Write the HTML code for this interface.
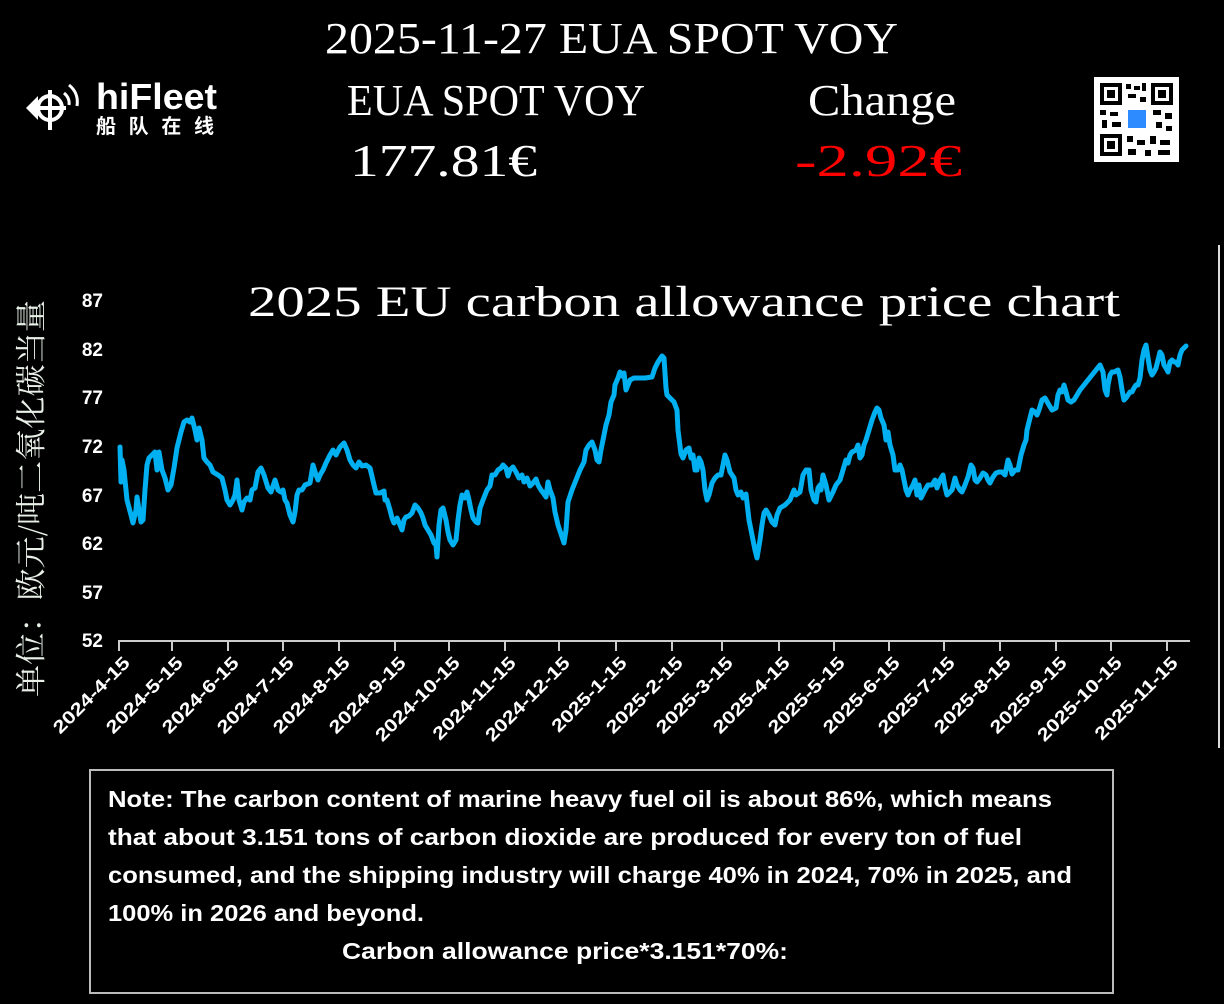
<!DOCTYPE html>
<html><head><meta charset="utf-8"><style>
body{margin:0;background:#000;}
.w{position:relative;width:1224px;height:1004px;background:#000;overflow:hidden}
</style></head><body><div class="w">
<svg style="position:absolute;left:0;top:0" width="1224" height="1004">
<g font-family="Liberation Serif,serif" fill="#fff">
<text x="325" y="53" font-size="44" textLength="573" lengthAdjust="spacingAndGlyphs">2025-11-27 EUA SPOT VOY</text>
<text x="347" y="115" font-size="44" textLength="298" lengthAdjust="spacingAndGlyphs">EUA SPOT VOY</text>
<text x="808" y="115" font-size="44" textLength="148" lengthAdjust="spacingAndGlyphs">Change</text>
<text x="350" y="176" font-size="46" textLength="187" lengthAdjust="spacingAndGlyphs">177.81€</text>
<text x="795" y="176" font-size="46" textLength="167" lengthAdjust="spacingAndGlyphs" fill="#f00">-2.92€</text>
<text x="248" y="316" font-size="43" textLength="872" lengthAdjust="spacingAndGlyphs">2025 EU carbon allowance price chart</text>
</g>
<g fill="#fff" stroke="#fff">
<circle cx="50" cy="108" r="12" fill="none" stroke-width="4"/>
<line x1="50" y1="90" x2="50" y2="130" stroke-width="4"/>
<line x1="32" y1="108" x2="66" y2="108" stroke-width="4"/>
<polygon points="26,108 38,96 38,120" stroke="none"/>
<path d="M64 93 q6 5 5 12" fill="none" stroke-width="3"/>
<path d="M69 85 q10 8 8 21" fill="none" stroke-width="3"/>
</g>
<text x="96" y="109" font-family="Liberation Sans,sans-serif" font-weight="bold" font-size="36" fill="#fff" textLength="121" lengthAdjust="spacingAndGlyphs">hiFleet</text>
<text x="96" y="133" font-family="Noto Sans CJK SC,sans-serif" font-weight="bold" font-size="20" fill="#fff" textLength="118" lengthAdjust="spacing">船队在线</text>
<rect x="1094" y="77" width="85" height="85" fill="#fff"/>
<g fill="#000">
<rect x="1100" y="83" width="22" height="22"/><rect x="1104" y="87" width="14" height="14" fill="#fff"/><rect x="1107" y="90" width="8" height="8"/>
<rect x="1151" y="83" width="22" height="22"/><rect x="1155" y="87" width="14" height="14" fill="#fff"/><rect x="1158" y="90" width="8" height="8"/>
<rect x="1100" y="134" width="22" height="22"/><rect x="1104" y="138" width="14" height="14" fill="#fff"/><rect x="1107" y="141" width="8" height="8"/>
<rect x="1126" y="84" width="5" height="5"/><rect x="1134" y="86" width="6" height="4"/><rect x="1142" y="83" width="4" height="8"/><rect x="1128" y="94" width="8" height="4"/><rect x="1140" y="97" width="6" height="5"/>
<rect x="1100" y="110" width="6" height="5"/><rect x="1110" y="112" width="8" height="4"/><rect x="1102" y="120" width="5" height="8"/><rect x="1112" y="122" width="9" height="5"/>
<rect x="1153" y="110" width="8" height="5"/><rect x="1165" y="113" width="7" height="6"/><rect x="1156" y="122" width="6" height="6"/><rect x="1166" y="126" width="6" height="5"/>
<rect x="1127" y="136" width="6" height="6"/><rect x="1137" y="140" width="8" height="5"/><rect x="1150" y="136" width="6" height="8"/><rect x="1160" y="140" width="10" height="5"/><rect x="1128" y="149" width="8" height="6"/><rect x="1145" y="150" width="6" height="6"/><rect x="1158" y="150" width="12" height="5"/>
</g>
<rect x="1128" y="110" width="18" height="18" fill="#2e8bff"/>
<line x1="1219" y1="245" x2="1219" y2="748" stroke="#ddd" stroke-width="2"/>
<g font-family="Liberation Sans,sans-serif" font-weight="bold" font-size="19" fill="#fff" text-anchor="end">
<text x="103" y="307">87</text><text x="103" y="356">82</text><text x="103" y="404">77</text><text x="103" y="453">72</text><text x="103" y="502">67</text><text x="103" y="550">62</text><text x="103" y="599">57</text><text x="103" y="647">52</text>
</g>
<text transform="translate(42,697) rotate(-90)" font-family="Noto Serif CJK SC,serif" font-size="31" fill="#e8f0e8" textLength="397" lengthAdjust="spacingAndGlyphs">单位：欧元/吨二氧化碳当量</text>
<line x1="118" y1="641" x2="1190" y2="641" stroke="#ccc" stroke-width="2"/>
<g stroke="#ccc" stroke-width="2">
<line x1="119" y1="641" x2="119" y2="651"/><line x1="172" y1="641" x2="172" y2="651"/><line x1="228" y1="641" x2="228" y2="651"/><line x1="283" y1="641" x2="283" y2="651"/><line x1="339" y1="641" x2="339" y2="651"/><line x1="395" y1="641" x2="395" y2="651"/><line x1="449" y1="641" x2="449" y2="651"/><line x1="505" y1="641" x2="505" y2="651"/><line x1="559" y1="641" x2="559" y2="651"/><line x1="616" y1="641" x2="616" y2="651"/><line x1="672" y1="641" x2="672" y2="651"/><line x1="722" y1="641" x2="722" y2="651"/><line x1="779" y1="641" x2="779" y2="651"/><line x1="834" y1="641" x2="834" y2="651"/><line x1="889" y1="641" x2="889" y2="651"/><line x1="944" y1="641" x2="944" y2="651"/><line x1="1000" y1="641" x2="1000" y2="651"/><line x1="1056" y1="641" x2="1056" y2="651"/><line x1="1111" y1="641" x2="1111" y2="651"/><line x1="1167" y1="641" x2="1167" y2="651"/>
</g>
<g font-family="Liberation Sans,sans-serif" font-weight="bold" font-size="18" fill="#fff" text-anchor="end">
<text transform="translate(131,664) rotate(-45)" textLength="100" lengthAdjust="spacingAndGlyphs">2024-4-15</text>
<text transform="translate(184,664) rotate(-45)" textLength="100" lengthAdjust="spacingAndGlyphs">2024-5-15</text>
<text transform="translate(240,664) rotate(-45)" textLength="100" lengthAdjust="spacingAndGlyphs">2024-6-15</text>
<text transform="translate(295,664) rotate(-45)" textLength="100" lengthAdjust="spacingAndGlyphs">2024-7-15</text>
<text transform="translate(351,664) rotate(-45)" textLength="100" lengthAdjust="spacingAndGlyphs">2024-8-15</text>
<text transform="translate(407,664) rotate(-45)" textLength="100" lengthAdjust="spacingAndGlyphs">2024-9-15</text>
<text transform="translate(461,664) rotate(-45)" textLength="111" lengthAdjust="spacingAndGlyphs">2024-10-15</text>
<text transform="translate(517,664) rotate(-45)" textLength="109" lengthAdjust="spacingAndGlyphs">2024-11-15</text>
<text transform="translate(571,664) rotate(-45)" textLength="111" lengthAdjust="spacingAndGlyphs">2024-12-15</text>
<text transform="translate(628,664) rotate(-45)" textLength="98" lengthAdjust="spacingAndGlyphs">2025-1-15</text>
<text transform="translate(684,664) rotate(-45)" textLength="100" lengthAdjust="spacingAndGlyphs">2025-2-15</text>
<text transform="translate(734,664) rotate(-45)" textLength="100" lengthAdjust="spacingAndGlyphs">2025-3-15</text>
<text transform="translate(791,664) rotate(-45)" textLength="100" lengthAdjust="spacingAndGlyphs">2025-4-15</text>
<text transform="translate(846,664) rotate(-45)" textLength="100" lengthAdjust="spacingAndGlyphs">2025-5-15</text>
<text transform="translate(901,664) rotate(-45)" textLength="100" lengthAdjust="spacingAndGlyphs">2025-6-15</text>
<text transform="translate(956,664) rotate(-45)" textLength="100" lengthAdjust="spacingAndGlyphs">2025-7-15</text>
<text transform="translate(1012,664) rotate(-45)" textLength="100" lengthAdjust="spacingAndGlyphs">2025-8-15</text>
<text transform="translate(1068,664) rotate(-45)" textLength="100" lengthAdjust="spacingAndGlyphs">2025-9-15</text>
<text transform="translate(1123,664) rotate(-45)" textLength="111" lengthAdjust="spacingAndGlyphs">2025-10-15</text>
<text transform="translate(1179,664) rotate(-45)" textLength="109" lengthAdjust="spacingAndGlyphs">2025-11-15</text>
</g>
<polyline fill="none" stroke="#00b0f0" stroke-width="5" stroke-linejoin="round" stroke-linecap="round" points="120,447 121,482 122,460 124,470 127,500 131,515 133,523 136,510 137,497 139,510 141,522 143,520 145,490 147,465 149,458 152,455 155,452 157,470 159,452 162,470 165,478 168,490 171,485 174,468 177,448 181,432 184,422 187,420 190,422 192,418 195,430 197,440 199,428 202,440 204,458 207,462 210,465 213,472 218,475 222,478 225,490 227,500 230,505 233,500 235,495 237,480 239,500 242,510 244,502 247,498 250,500 252,490 255,488 258,472 261,468 264,475 268,488 271,492 273,486 275,480 278,490 281,492 283,490 285,500 287,503 290,515 293,522 295,512 297,495 299,490 302,490 305,485 310,483 313,465 316,475 318,480 320,475 323,470 326,463 330,455 333,450 336,455 340,447 344,443 347,450 350,460 353,465 356,468 359,462 362,466 366,465 370,468 374,485 376,493 380,493 384,491 385,500 387,500 390,510 392,518 394,523 397,518 400,525 402,530 404,520 406,517 409,516 412,513 415,505 418,508 421,513 423,518 425,525 428,530 431,535 434,543 436,545 437,557 439,525 441,510 443,508 446,520 448,532 450,540 453,545 456,540 458,520 460,505 462,495 465,498 467,492 469,500 471,510 473,518 476,522 478,523 480,508 483,500 485,495 487,490 490,486 492,475 495,475 498,470 501,468 503,465 506,468 508,476 510,470 513,467 516,472 519,478 522,475 524,482 527,478 530,486 533,483 536,479 538,485 541,490 544,494 546,497 548,482 550,490 553,498 555,512 558,525 562,537 564,543 566,530 568,502 572,490 576,480 580,470 584,462 586,450 589,445 592,442 595,450 597,460 599,462 601,450 603,440 606,425 609,415 611,402 614,395 615,385 618,378 620,372 622,376 624,373 626,390 628,385 630,380 634,378 645,378 652,377 655,368 658,362 662,356 664,358 666,388 667,395 670,398 674,402 677,410 678,430 681,454 683,458 686,450 689,448 691,458 693,455 695,470 697,470 699,458 701,462 703,470 705,490 707,500 709,495 712,483 715,478 718,475 721,475 723,465 725,455 727,460 730,472 734,478 736,490 738,495 741,492 743,498 746,494 749,520 752,535 755,550 757,558 760,540 762,525 764,513 766,510 769,515 772,522 775,525 777,515 780,508 785,505 790,500 794,490 796,495 800,492 803,475 806,470 809,470 811,490 814,500 816,502 818,488 820,485 821,490 823,475 826,485 829,500 833,492 836,485 840,480 843,470 846,460 848,463 850,455 852,452 856,450 858,445 860,458 862,455 864,445 866,440 869,430 872,420 875,412 877,408 879,410 881,418 884,425 886,440 888,432 890,445 893,455 895,470 898,470 900,465 902,470 904,480 906,490 908,495 910,490 913,485 915,480 917,495 919,485 921,498 925,490 928,485 932,485 935,480 937,488 940,480 943,475 945,487 947,495 950,492 952,490 955,478 957,485 960,490 962,492 965,485 968,477 971,465 973,468 975,480 977,482 980,478 983,473 986,475 988,480 990,483 993,477 996,473 999,472 1002,472 1005,475 1008,460 1010,465 1012,474 1015,470 1018,470 1021,455 1024,445 1026,440 1027,430 1030,418 1032,410 1035,412 1037,415 1039,410 1042,400 1045,398 1049,405 1052,410 1056,408 1058,395 1060,390 1062,392 1064,385 1066,392 1068,400 1071,402 1074,400 1077,395 1080,390 1084,385 1088,380 1092,375 1096,370 1100,365 1103,372 1105,390 1107,395 1108,385 1110,375 1112,372 1114,372 1118,370 1120,377 1122,390 1124,400 1126,398 1128,395 1130,392 1132,392 1134,388 1136,385 1138,385 1140,378 1142,360 1144,350 1146,345 1148,358 1150,370 1152,375 1154,372 1156,368 1158,360 1160,352 1162,355 1164,365 1166,368 1168,372 1170,362 1172,360 1174,362 1176,362 1178,365 1180,355 1182,350 1186,346"/>
<rect x="90" y="770" width="1023" height="223" fill="none" stroke="#bbb" stroke-width="2"/>
<g font-family="Liberation Sans,sans-serif" font-weight="bold" font-size="23" fill="#fff">
<text x="108" y="807" textLength="944" lengthAdjust="spacingAndGlyphs">Note: The carbon content of marine heavy fuel oil is about 86%, which means</text>
<text x="108" y="845" textLength="914" lengthAdjust="spacingAndGlyphs">that about 3.151 tons of carbon dioxide are produced for every ton of fuel</text>
<text x="108" y="883" textLength="964" lengthAdjust="spacingAndGlyphs">consumed, and the shipping industry will charge 40% in 2024, 70% in 2025, and</text>
<text x="108" y="921" textLength="316" lengthAdjust="spacingAndGlyphs">100% in 2026 and beyond.</text>
<text x="342" y="959" textLength="446" lengthAdjust="spacingAndGlyphs">Carbon allowance price*3.151*70%:</text>
</g>
</svg>
</div></body></html>
